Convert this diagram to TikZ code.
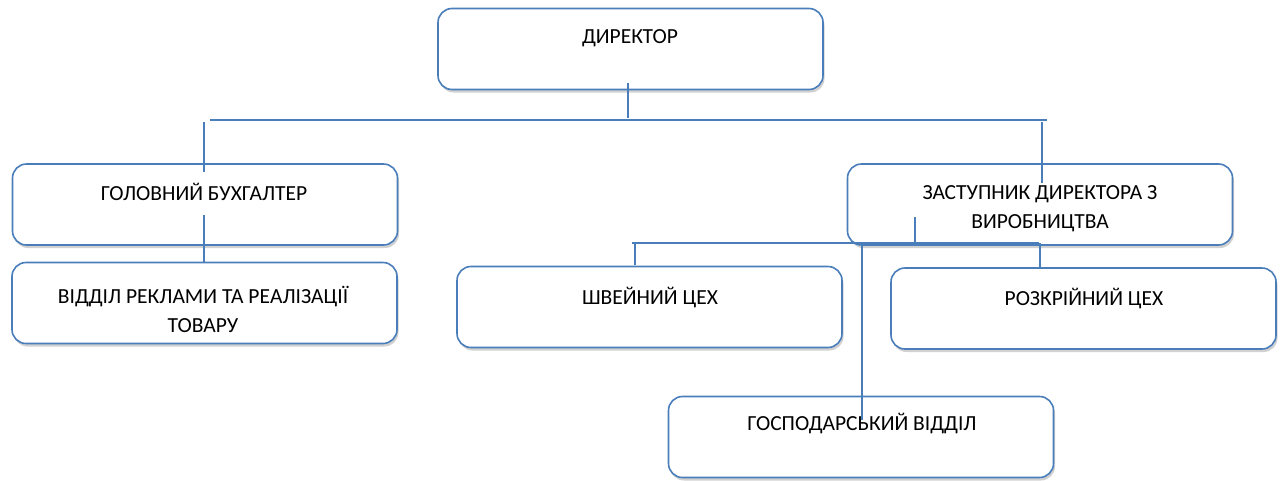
\documentclass[tikz,border=0pt]{standalone}
\usepackage{fontspec}
\setmainfont{Carlito}
\usetikzlibrary{shadows}
\definecolor{lineblue}{HTML}{4A7EBB}
\begin{document}
\begin{tikzpicture}[x=1pt,y=-1pt,
  orgbox/.style={draw=lineblue, line width=1.6pt, rounded corners=14pt, fill=white,
    minimum width=385pt, minimum height=81pt, inner sep=0pt,
    drop shadow={shadow xshift=1.5pt, shadow yshift=-3pt, opacity=0.18, fill=black}},
  lbl/.style={font=\fontsize{21.5}{29}\selectfont, align=center, text=black, inner sep=0pt},
  conn/.style={draw=lineblue, line width=1.6pt}]
\useasboundingbox (0,0) rectangle (1283,480);
% boxes
\node[orgbox] (dir) at (630.5,49) {};
\node[orgbox] (gb) at (205,204.5) {};
\node[orgbox] (vr) at (204.5,303) {};
\node[orgbox] (zd) at (1040,204.5) {};
\node[orgbox] (sh) at (649.5,307) {};
\node[orgbox] (rz) at (1083.5,308.5) {};
\node[orgbox] (gv) at (861,437) {};
% labels
\node[lbl] (tdir) at (630,38) {ДИРЕКТОР};
\node[lbl] (tgb) at (204,192) {ГОЛОВНИЙ БУХГАЛТЕР};
\node[lbl] (tvr) at (203,309) {ВІДДІЛ РЕКЛАМИ ТА РЕАЛІЗАЦІЇ\\ТОВАРУ};
\node[lbl] (tzd) at (1040,209) {ЗАСТУПНИК ДИРЕКТОРА З\\ВИРОБНИЦТВА};
\node[lbl] (tsh) at (650,298) {ШВЕЙНИЙ ЦЕХ};
\node[lbl] (trz) at (1084,299) {РОЗКРІЙНИЙ ЦЕХ};
\node[lbl] (tgv) at (862,424) {ГОСПОДАРСЬКИЙ ВІДДІЛ};
% connector points
\coordinate (d1) at (628,83);
\coordinate (d2) at (628,118);
\coordinate (h1l) at (210,120);
\coordinate (h1r) at (1047,120);
\coordinate (l1) at (204,122);
\coordinate (l2) at (204,172);
\coordinate (g1) at (204,215);
\coordinate (g2) at (204,262);
\coordinate (r1) at (1042,122);
\coordinate (r2) at (1042,183);
\coordinate (h2l) at (632,243);
\coordinate (h2r) at (1039,243);
\coordinate (z1) at (915,217);
\coordinate (z2) at (915,245);
\coordinate (s1) at (635,243);
\coordinate (s2) at (635,265);
\coordinate (k1) at (1040,243);
\coordinate (k2) at (1040,268);
\coordinate (v1) at (862,246);
\coordinate (v2) at (862,420);
% connectors
\draw[conn] (d1) -- (d2);
\draw[conn] (h1l) -- (h1r);
\draw[conn] (l1) -- (l2);
\draw[conn] (g1) -- (g2);
\draw[conn] (r1) -- (r2);
\draw[conn] (h2l) -- (h2r);
\draw[conn] (z1) -- (z2);
\draw[conn] (s1) -- (s2);
\draw[conn] (k1) -- (k2);
\draw[conn] (v1) -- (v2);
\end{tikzpicture}
\end{document}
